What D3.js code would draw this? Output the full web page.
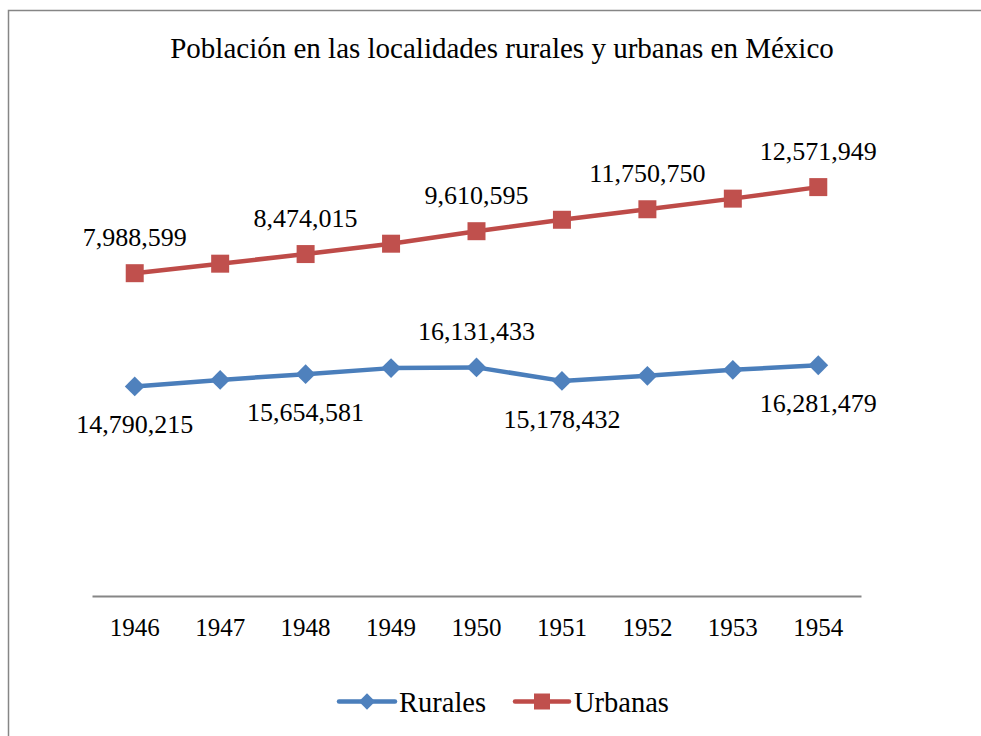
<!DOCTYPE html>
<html>
<head>
<meta charset="utf-8">
<script src="https://cdn.jsdelivr.net/npm/d3@7"></script>
</head>
<body style="margin:0;background:#fff">
<svg id="chart" width="981" height="736"></svg>
<script>
var years = ["1946", "1947", "1948", "1949", "1950", "1951", "1952", "1953", "1954"];
var rurales = [14790215, 15250000, 15654581, 16080000, 16131433, 15178432, 15540000, 15960000, 16281479];
var urbanas = [7988599, 8200000, 8474015, 8780000, 9610595, 11370000, 11750750, 12080000, 12571949];
// which points carry a data label, and on which side
var ruralesLabels = {0: "below", 2: "below", 4: "above", 5: "below", 8: "below"};
var urbanasLabels = {0: "above", 2: "above", 4: "above", 6: "above", 8: "above"};

var FONT = "Liberation Serif";

var svg = d3.select("#chart")
    .attr("font-family", FONT);

// chart frame (right and bottom edges run off the page)
svg.append("rect")
    .attr("x", 8.5).attr("y", 10.5)
    .attr("width", 1000).attr("height", 800)
    .attr("fill", "none")
    .attr("stroke", "#868686")
    .attr("stroke-width", 1.5);

svg.append("text")
    .attr("x", 502).attr("y", 58)
    .attr("text-anchor", "middle")
    .attr("font-family", FONT)
    .attr("font-size", 29)
    .text("Población en las localidades rurales y urbanas en México");

// stacked line: Urbanas sits on top of Rurales
var table = years.map(function(y, i) {
  return {year: y, Rurales: rurales[i], Urbanas: urbanas[i]};
});
var stacked = d3.stack().keys(["Rurales", "Urbanas"])(table);

var x = d3.scaleBand().domain(years).range([92, 861]);
var y = d3.scaleLinear().domain([0, 35000000]).range([596, 100]);
var cx = function(i) { return x(years[i]) + x.bandwidth() / 2; };

var xAxis = svg.append("g")
    .attr("transform", "translate(0,596)")
    .call(d3.axisBottom(x).tickSize(0).tickPadding(22));
xAxis.attr("font-family", FONT).attr("font-size", 25);
xAxis.select(".domain").attr("stroke", "#868686").attr("stroke-width", 2);
xAxis.selectAll("text").attr("fill", "#000");

var series = [
  {name: "Rurales", color: "#4A7EBB", fill: "#4F81BD", shape: "diamond", labels: ruralesLabels, raw: rurales},
  {name: "Urbanas", color: "#BE4B48", fill: "#C0504D", shape: "square", labels: urbanasLabels, raw: urbanas}
];

var fmt = d3.format(",");

series.forEach(function(s, k) {
  var pts = stacked[k].map(function(d, i) { return [cx(i), y(d[1])]; });
  svg.append("path")
      .attr("d", d3.line()(pts))
      .attr("fill", "none")
      .attr("stroke", s.color)
      .attr("stroke-width", 4.5)
      .attr("stroke-linejoin", "round");

  var size = s.shape === "square" ? 18 : 14;
  svg.selectAll(".m" + k)
      .data(pts)
      .enter().append("path")
      .attr("class", "m" + k)
      .attr("d", d3.symbol(d3.symbolSquare, size * size)())
      .attr("transform", function(p) {
        return "translate(" + p[0] + "," + p[1] + ")" + (s.shape === "diamond" ? " rotate(45)" : "");
      })
      .attr("fill", s.fill);

  Object.keys(s.labels).forEach(function(key) {
    var i = +key;
    var p = pts[i];
    svg.append("text")
        .attr("x", p[0])
        .attr("y", s.labels[key] === "above" ? p[1] - 27 : p[1] + 47)
        .attr("text-anchor", "middle")
        .attr("font-family", FONT)
        .attr("font-size", 26)
        .text(fmt(s.raw[i]));
  });
});

// legend
var legend = [
  {x0: 339, x1: 395, tx: 399},
  {x0: 515, x1: 569, tx: 574}
];
series.forEach(function(s, k) {
  var L = legend[k];
  svg.append("line")
      .attr("x1", L.x0).attr("x2", L.x1)
      .attr("y1", 701.5).attr("y2", 701.5)
      .attr("stroke", s.color)
      .attr("stroke-width", 4.5)
      .attr("stroke-linecap", "round");
  var size = s.shape === "square" ? 16 : 11.5;
  svg.append("path")
      .attr("d", d3.symbol(d3.symbolSquare, size * size)())
      .attr("transform", "translate(" + (L.x0 + L.x1) / 2 + ",701.5)" + (s.shape === "diamond" ? " rotate(45)" : ""))
      .attr("fill", s.fill);
  svg.append("text")
      .attr("x", L.tx).attr("y", 711.5)
      .attr("font-family", FONT)
      .attr("font-size", 28.5)
      .text(s.name);
});
</script>
</body>
</html>
